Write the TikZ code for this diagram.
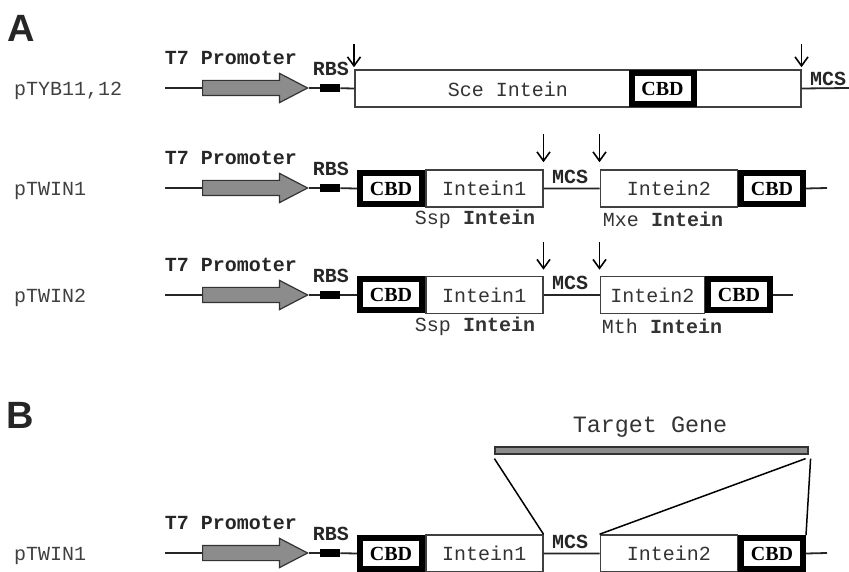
\documentclass[tikz,border=0pt]{standalone}
\usepackage{fontspec}
\usetikzlibrary{arrows.meta,shapes.arrows,positioning}
\newfontfamily\monofont{Liberation Mono}
\newfontfamily\cbdfont{Liberation Serif}
\newfontfamily\panelfont{Liberation Sans}

\tikzset{
  dna/.style={line width=0.9bp, draw=black!85},
  box/.style={draw=black!75, line width=0.75bp, fill=white, minimum height=18.5bp,
    inner sep=0pt, text=black!80, font=\monofont\fontsize{10bp}{12bp}\selectfont},
  cbdbox/.style={draw=black, line width=3bp, fill=white, minimum width=31bp,
    minimum height=15.5bp, inner sep=0pt, font=\cbdfont\bfseries\fontsize{10bp}{12bp}\selectfont},
  promoter/.style={single arrow, draw=black!80, fill=black!45, line width=0.6bp,
    minimum height=52.5bp, inner xsep=0pt, inner ysep=3.5bp, single arrow head extend=3.5bp,
    single arrow tip angle=55},
  rbs/.style={fill=black, minimum width=10bp, minimum height=4bp, inner sep=0pt},
  lbl/.style={font=\monofont\bfseries\fontsize{10bp}{12bp}\selectfont, text=black!85},
  plasmid/.style={anchor=west, text=black!75, font=\monofont\fontsize{10bp}{12bp}\selectfont},
  sub/.style={text=black!80, font=\monofont\fontsize{10bp}{12bp}\selectfont},
  panel/.style={font=\panelfont\bfseries\fontsize{19bp}{22bp}\selectfont, text=black!85},
  cut/.style={line width=0.8bp, -{Straight Barb[length=4.5bp,width=6.5bp]}},
}

\begin{document}
\begin{tikzpicture}[x=0.5bp, y=-0.5bp]
\useasboundingbox (0,0) rectangle (849,572);

\node[panel] (A) at (21,28) {A};
\node[panel] (B) at (20,415) {B};

% promoter part, the same in every row
\foreach \y/\p [count=\i] in {88/{pTYB11,12}, 188/pTWIN1, 295/pTWIN2, 553/pTWIN1} {
  \node[plasmid] (lab\i) at (7,\y+3) {\p};
  \node[lbl] (t7\i) at (231,\y-30) {T7 Promoter};
  \node[lbl] (rb\i) at (331,\y-19) {RBS};
  \coordinate (start\i) at (165,\y);
  \node[promoter, anchor=tail] (pro\i) at (202,\y) {};
  \node[rbs] (rbs\i) at (330,\y) {};
  \draw[dna] (start\i) -- (pro\i.tail) (pro\i.tip) -- (rbs\i);
}

% pTYB11,12
\node[box, minimum width=223bp, anchor=west] (sce) at (354,88.5) {};
\node[sub] (scetxt) at (508,89) {Sce Intein};
\node[cbdbox] (cbd1) at (662.5,88.5) {CBD};
\coordinate (end1) at (849,88);
\node[lbl] (mcs1) at (828,79) {MCS};
\draw[dna] (rbs1) -- (sce.west) (sce.east) -- (end1);
\draw[cut] ([yshift=12.5bp]sce.north west) -- ([yshift=1bp]sce.north west);
\draw[cut] ([yshift=12.5bp]sce.north east) -- ([yshift=1bp]sce.north east);

% pTWIN1
\node[cbdbox] (cbdL2) at (391,188.5) {CBD};
\node[box, minimum width=58.5bp, right=0pt of cbdL2] (intA2) {Intein1};
\node[box, minimum width=68.5bp, right=28bp of intA2] (intB2) {Intein2};
\node[cbdbox, right=0pt of intB2] (cbdR2) {CBD};
\coordinate (end2) at (827,188);
\node[lbl] (mcs2) at (570,177) {MCS};
\node[sub] (sspA) at (475,219) {Ssp \textbf{Intein}};
\node[sub] (mxe) at (663,219) {Mxe \textbf{Intein}};
\draw[dna] (rbs2) -- (cbdL2.west) (intA2.east) -- (intB2.west) (cbdR2.east) -- (end2);
\draw[cut] ([yshift=17.5bp]intA2.north east) -- ([yshift=3.5bp]intA2.north east);
\draw[cut] ([yshift=17.5bp]intB2.north west) -- ([yshift=3.5bp]intB2.north west);

% pTWIN2
\node[cbdbox] (cbdL3) at (391,295) {CBD};
\node[box, minimum width=58.5bp, right=0pt of cbdL3] (intA3) {Intein1};
\node[box, minimum width=52bp, right=28bp of intA3] (intB3) {Intein2};
\node[cbdbox, right=0pt of intB3] (cbdR3) {CBD};
\coordinate (end3) at (793,295);
\node[lbl] (mcs3) at (570,283) {MCS};
\node[sub] (sspB) at (475,326) {Ssp \textbf{Intein}};
\node[sub] (mth) at (662,326) {Mth \textbf{Intein}};
\draw[dna] (rbs3) -- (cbdL3.west) (intA3.east) -- (intB3.west) (cbdR3.east) -- (end3);
\draw[cut] ([yshift=17bp]intA3.north east) -- ([yshift=3bp]intA3.north east);
\draw[cut] ([yshift=17bp]intB3.north west) -- ([yshift=3bp]intB3.north west);

% B: pTWIN1 with target gene
\node[cbdbox] (cbdL4) at (391,553.5) {CBD};
\node[box, minimum width=58.5bp, right=0pt of cbdL4] (intA4) {Intein1};
\node[box, minimum width=68.5bp, right=28bp of intA4] (intB4) {Intein2};
\node[cbdbox, right=0pt of intB4] (cbdR4) {CBD};
\coordinate (end4) at (827,553);
\node[lbl] (mcs4) at (570,542) {MCS};
\draw[dna] (rbs4) -- (cbdL4.west) (intA4.east) -- (intB4.west) (cbdR4.east) -- (end4);

\node[draw=black!80, fill=black!45, line width=0.6bp, minimum width=156.5bp,
  minimum height=3.5bp, inner sep=0pt] (gene) at (651.5,450.5) {};
\node[sub, font=\monofont\fontsize{11.7bp}{14bp}\selectfont] (genetxt) at (650,427) {Target Gene};
\draw[line width=0.75bp] ([yshift=-2bp]gene.south west) -- (intA4.north east);
\draw[line width=0.75bp] ([xshift=-1.5bp,yshift=-2bp]gene.south east) -- (intB4.north west);
\draw[line width=0.75bp] ([xshift=1bp,yshift=-2bp]gene.south east) -- (cbdR4.north east);
\end{tikzpicture}
\end{document}
